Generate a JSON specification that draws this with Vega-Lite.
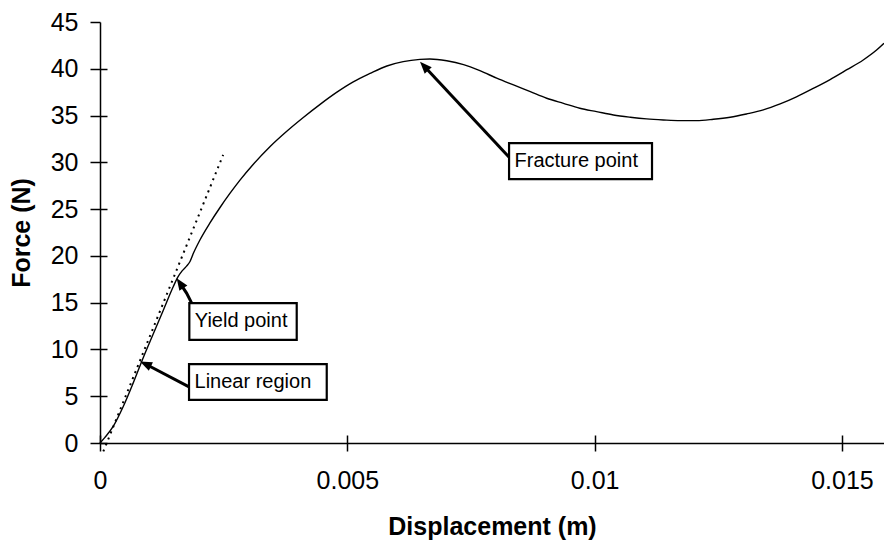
{
  "$schema": "https://vega.github.io/schema/vega-lite/v6.json",
  "width": 784,
  "height": 421,
  "autosize": {"type": "none"},
  "padding": {"left": 100, "top": 22, "right": 0, "bottom": 102},
  "background": "white",
  "config": {
    "view": {"stroke": null},
    "font": "Liberation Sans",
    "axis": {
      "grid": false,
      "domainColor": "black",
      "domainWidth": 1.5,
      "tickColor": "black",
      "tickWidth": 1.5,
      "labelColor": "black",
      "labelFont": "Liberation Sans",
      "labelFontSize": 25,
      "labelFlush": false,
      "titleColor": "black",
      "titleFont": "Liberation Sans",
      "titleFontSize": 25,
      "titleFontWeight": "bold"
    }
  },
  "datasets": {
    "curve": [
      {"d": 0, "f": 0},
      {"d": 0.0001, "f": 0.6},
      {"d": 0.00027, "f": 1.8},
      {"d": 0.00047, "f": 3.9},
      {"d": 0.00067, "f": 6.4},
      {"d": 0.00088, "f": 9.2},
      {"d": 0.00108, "f": 11.7},
      {"d": 0.00128, "f": 14.2},
      {"d": 0.00148, "f": 16.7},
      {"d": 0.00157, "f": 17.7},
      {"d": 0.00166, "f": 18.4},
      {"d": 0.00175, "f": 18.9},
      {"d": 0.00182, "f": 19.4},
      {"d": 0.00189, "f": 20.3},
      {"d": 0.00202, "f": 21.7},
      {"d": 0.00222, "f": 23.5},
      {"d": 0.00243, "f": 25.2},
      {"d": 0.00263, "f": 26.7},
      {"d": 0.00283, "f": 28.1},
      {"d": 0.0031, "f": 29.8},
      {"d": 0.00344, "f": 31.7},
      {"d": 0.00377, "f": 33.3},
      {"d": 0.00411, "f": 34.8},
      {"d": 0.00445, "f": 36.2},
      {"d": 0.00479, "f": 37.5},
      {"d": 0.00512, "f": 38.6},
      {"d": 0.00546, "f": 39.5},
      {"d": 0.0058, "f": 40.3},
      {"d": 0.00613, "f": 40.76},
      {"d": 0.00647, "f": 41.0},
      {"d": 0.00667, "f": 41.05},
      {"d": 0.00701, "f": 40.86},
      {"d": 0.00735, "f": 40.45},
      {"d": 0.00768, "f": 39.8},
      {"d": 0.00802, "f": 39.0},
      {"d": 0.00836, "f": 38.27},
      {"d": 0.0087, "f": 37.55},
      {"d": 0.00903, "f": 36.85},
      {"d": 0.00937, "f": 36.3},
      {"d": 0.0097, "f": 35.78},
      {"d": 0.01004, "f": 35.42},
      {"d": 0.01038, "f": 35.06},
      {"d": 0.01072, "f": 34.82},
      {"d": 0.01105, "f": 34.64},
      {"d": 0.01139, "f": 34.53},
      {"d": 0.01173, "f": 34.46},
      {"d": 0.01206, "f": 34.46},
      {"d": 0.0124, "f": 34.6},
      {"d": 0.01274, "f": 34.82},
      {"d": 0.01307, "f": 35.17},
      {"d": 0.01341, "f": 35.6},
      {"d": 0.01375, "f": 36.24},
      {"d": 0.01408, "f": 37.0},
      {"d": 0.01442, "f": 37.9},
      {"d": 0.01476, "f": 38.85},
      {"d": 0.0151, "f": 39.9},
      {"d": 0.01543, "f": 40.94},
      {"d": 0.0157, "f": 42.0},
      {"d": 0.01585, "f": 42.72}
    ],
    "fit": [
      {"d": 0.000067, "f": -0.9},
      {"d": 0.00249, "f": 30.8}
    ],
    "notes": [
      {"label": "Fracture point", "x": 0.00827, "x2": 0.01116, "y": 32.05, "y2": 28.2, "ty": 30.1},
      {"label": "Yield point", "x": 0.001806, "x2": 0.003977, "y": 14.95, "y2": 11.03, "ty": 13.0},
      {"label": "Linear region", "x": 0.0018, "x2": 0.004584, "y": 8.44, "y2": 4.62, "ty": 6.53}
    ],
    "arrows": [
      {"arrow": "Fracture point", "ord": 1, "x": 0.00829, "y": 30.44},
      {"arrow": "Fracture point", "ord": 2, "x": 0.00655, "y": 40.29},
      {"arrow": "Yield point", "ord": 1, "x": 0.001854, "y": 14.95},
      {"arrow": "Yield point", "ord": 2, "x": 0.00175, "y": 16.02},
      {"arrow": "Yield point", "ord": 3, "x": 0.001617, "y": 17.09},
      {"arrow": "Linear region", "ord": 1, "x": 0.0018, "y": 6.0},
      {"arrow": "Linear region", "ord": 2, "x": 0.000918, "y": 8.44}
    ],
    "tips": [
      {"arrow": "Fracture point", "x": 0.00647, "y": 40.76},
      {"arrow": "Yield point", "x": 0.00155, "y": 17.62},
      {"arrow": "Linear region", "x": 0.000809, "y": 8.72}
    ]
  },
  "resolve": {"axis": {"x": "independent", "y": "independent"}},
  "layer": [
    {
      "data": {"name": "curve"},
      "mark": {"type": "line", "color": "black", "strokeWidth": 1.4, "interpolate": "monotone"},
      "encoding": {
        "x": {
          "field": "d", "type": "quantitative",
          "scale": {"domain": [0, 0.01585], "nice": false, "zero": true},
          "axis": {"orient": "bottom", "title": "Displacement (m)", "values": [0, 0.005, 0.01, 0.015], "format": "~g", "tickSize": 8, "labelPadding": 17, "titlePadding": 21}
        },
        "y": {
          "field": "f", "type": "quantitative",
          "scale": {"domain": [0, 45], "nice": false},
          "axis": {"orient": "left", "title": "Force (N)", "values": [0, 5, 10, 15, 20, 25, 30, 35, 40, 45], "format": "~g", "tickSize": 10, "labelPadding": 12, "titlePadding": 16}
        }
      }
    },
    {
      "data": {"name": "fit"},
      "mark": {"type": "line", "color": "black", "strokeWidth": 2, "strokeDash": [2, 4.5]},
      "encoding": {
        "x": {"field": "d", "type": "quantitative", "axis": {"orient": "bottom", "title": null, "labels": false, "domain": false, "tickSize": -8, "values": [0, 0.005, 0.01, 0.015]}},
        "y": {"field": "f", "type": "quantitative", "axis": {"orient": "left", "title": null, "labels": false, "domain": false, "tickSize": -7, "values": [0, 5, 10, 15, 20, 25, 30, 35, 40]}}
      }
    },
    {
      "mark": {"type": "rule", "color": "black", "strokeWidth": 2},
      "encoding": {"y": {"datum": 45, "type": "quantitative", "axis": null}}
    },
    {
      "data": {"name": "arrows"},
      "mark": {"type": "line", "color": "black", "strokeWidth": 3},
      "encoding": {
        "x": {"field": "x", "type": "quantitative", "axis": null},
        "y": {"field": "y", "type": "quantitative", "axis": null},
        "detail": {"field": "arrow"},
        "order": {"field": "ord"}
      }
    },
    {
      "data": {"name": "notes"},
      "mark": {"type": "rect", "fill": "white", "stroke": "black", "strokeWidth": 2.2},
      "encoding": {
        "x": {"field": "x", "type": "quantitative", "axis": null},
        "x2": {"field": "x2"},
        "y": {"field": "y", "type": "quantitative", "axis": null},
        "y2": {"field": "y2"}
      }
    },
    {
      "data": {"name": "notes"},
      "mark": {"type": "text", "align": "left", "baseline": "middle", "dx": 5.5, "fontSize": 20, "font": "Liberation Sans", "color": "black"},
      "encoding": {
        "x": {"field": "x", "type": "quantitative", "axis": null},
        "y": {"field": "ty", "type": "quantitative", "axis": null},
        "text": {"field": "label"}
      }
    },
    {
      "data": {"name": "tips"},
      "transform": [{"filter": "datum.arrow == 'Fracture point'"}],
      "mark": {"type": "point", "shape": "M0,0L-0.8,2L0.8,2Z", "size": 144, "angle": 317, "filled": true, "color": "black", "opacity": 1, "strokeWidth": 0},
      "encoding": {
        "x": {"field": "x", "type": "quantitative", "axis": null},
        "y": {"field": "y", "type": "quantitative", "axis": null}
      }
    },
    {
      "data": {"name": "tips"},
      "transform": [{"filter": "datum.arrow == 'Yield point'"}],
      "mark": {"type": "point", "shape": "M0,0L-0.8,2L0.8,2Z", "size": 144, "angle": 326, "filled": true, "color": "black", "opacity": 1, "strokeWidth": 0},
      "encoding": {
        "x": {"field": "x", "type": "quantitative", "axis": null},
        "y": {"field": "y", "type": "quantitative", "axis": null}
      }
    },
    {
      "data": {"name": "tips"},
      "transform": [{"filter": "datum.arrow == 'Linear region'"}],
      "mark": {"type": "point", "shape": "M0,0L-0.8,2L0.8,2Z", "size": 144, "angle": 295, "filled": true, "color": "black", "opacity": 1, "strokeWidth": 0},
      "encoding": {
        "x": {"field": "x", "type": "quantitative", "axis": null},
        "y": {"field": "y", "type": "quantitative", "axis": null}
      }
    }
  ]
}
